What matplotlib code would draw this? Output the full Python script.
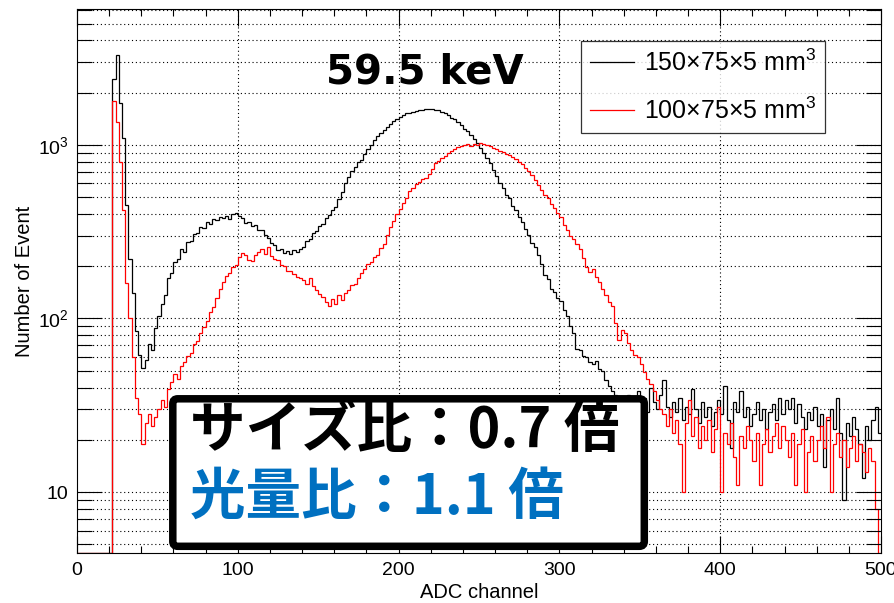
import numpy as np
import matplotlib
matplotlib.use("Agg")
import matplotlib.pyplot as plt
from matplotlib.ticker import MultipleLocator, LogLocator, FixedLocator, FixedFormatter, NullFormatter
from matplotlib.patches import FancyBboxPatch
from matplotlib.transforms import IdentityTransform

plt.rcParams['font.family'] = ['Liberation Sans', 'DejaVu Sans']

# ADC histograms, 2 channels per bin, 0..500
edges = np.arange(0, 502, 2)

counts_150 = [
    0, 0, 0, 0, 0, 0, 0, 0, 0, 0,
    0, 2400, 3300, 1750, 1100, 450, 220, 140, 85, 62,
    52, 58, 71, 66, 88, 104, 121, 136, 170, 184,
    212, 220, 251, 243, 276, 281, 305, 312, 336, 331,
    358, 352, 374, 368, 386, 379, 392, 376, 398, 404,
    392, 381, 356, 362, 341, 346, 325, 322, 304, 292,
    271, 266, 248, 251, 238, 244, 236, 247, 241, 253,
    258, 279, 286, 309, 318, 339, 352, 381, 396, 424,
    441, 486, 536, 604, 652, 706, 744, 796, 818, 884,
    946, 1004, 1066, 1128, 1176, 1224, 1268, 1326, 1374, 1418,
    1452, 1486, 1524, 1536, 1556, 1566, 1592, 1598, 1612, 1608,
    1614, 1596, 1584, 1552, 1526, 1484, 1436, 1402, 1356, 1296,
    1244, 1196, 1142, 1076, 1024, 958, 904, 836, 782, 716,
    664, 606, 562, 516, 494, 446, 424, 386, 362, 326,
    304, 272, 258, 232, 206, 178, 168, 148, 142, 131,
    126, 112, 104, 90, 82, 67, 66, 61, 60, 56,
    55, 57, 51, 50, 44, 41, 38, 36, 35, 34,
    30, 36, 28, 33, 38, 31, 35, 29, 40, 33,
    30, 36, 44, 31, 27, 33, 29, 35, 26, 31,
    28, 39, 30, 25, 33, 27, 31, 24, 29, 34,
    28, 41, 26, 18, 33, 29, 38, 27, 31, 24,
    28, 33, 26, 30, 23, 29, 32, 26, 35, 28,
    34, 30, 35, 25, 32, 27, 23, 29, 26, 31,
    24, 28, 14, 26, 30, 23, 35, 22, 9, 25,
    21, 27, 23, 19, 12, 24, 20, 26, 31, 22,
]

counts_100 = [
    0, 0, 0, 0, 0, 0, 0, 0, 0, 0,
    0, 1800, 1350, 800, 420, 160, 100, 60, 35, 28,
    19, 25, 28, 24, 27, 30, 34, 31, 39, 43,
    48, 45, 53, 56, 61, 63, 71, 74, 83, 89,
    97, 109, 116, 131, 148, 163, 176, 183, 197, 204,
    226, 238, 231, 218, 214, 232, 243, 252, 236, 258,
    229, 221, 216, 203, 201, 189, 187, 181, 174, 171,
    166, 158, 171, 153, 146, 139, 133, 124, 118, 129,
    121, 136, 127, 141, 146, 156, 158, 171, 182, 194,
    206, 213, 227, 233, 256, 268, 302, 338, 367, 401,
    428, 462, 497, 542, 568, 592, 608, 633, 648, 683,
    728, 782, 806, 843, 868, 902, 918, 948, 972, 988,
    1002, 1008, 992, 1012, 998, 1032, 1018, 1002, 982, 958,
    952, 928, 912, 888, 872, 848, 832, 798, 772, 738,
    712, 668, 632, 588, 552, 518, 492, 458, 432, 404,
    382, 348, 322, 298, 287, 268, 252, 224, 198, 186,
    192, 174, 162, 148, 136, 124, 118, 94, 75, 86,
    82, 72, 66, 62, 60, 55, 49, 45, 42, 38,
    34, 30, 28, 24, 30, 22, 26, 19, 10, 25,
    34, 21, 27, 18, 24, 20, 26, 17, 23, 31,
    10, 22, 19, 25, 16, 11, 21, 18, 24, 20,
    15, 22, 11, 19, 23, 17, 21, 25, 18, 24,
    20, 16, 22, 11, 19, 23, 10, 17, 21, 15,
    20, 24, 18, 27, 10, 19, 22, 16, 20, 14,
    18, 21, 15, 19, 17, 13, 18, 15, 8, 0,
]

labels = ["150\u00d775\u00d75 mm$^{\\mathregular{3}}$", "100\u00d775\u00d75 mm$^{\\mathregular{3}}$"]
title = "59.5 keV"
line1 = "サイズ比：0.7 倍"
line2 = "光量比：1.1 倍"

ymin, ymax = 4.47, 6050

fig = plt.figure(figsize=(8.95, 6.03), dpi=100)
ax = fig.add_axes([77/895, 1-552.7/603, 804/895, 543.4/603])

h150 = np.clip(np.array(counts_150, float), ymin, None)
h100 = np.clip(np.array(counts_100, float), ymin, None)
ax.stairs(h150, edges, baseline=None, color='black', lw=0.9, label=labels[0])
ax.stairs(h100, edges, baseline=None, color='#ff0000', lw=0.9, label=labels[1])

ax.set_yscale('log')
ax.set_xlim(0, 500)
ax.set_ylim(ymin, ymax)

ax.xaxis.set_major_locator(MultipleLocator(100))
ax.xaxis.set_minor_locator(MultipleLocator(20))
ax.yaxis.set_major_locator(FixedLocator([10, 100, 1000]))
ax.yaxis.set_major_formatter(FixedFormatter(["10", "$\\mathregular{10^{2}}$", "$\\mathregular{10^{3}}$"]))
ax.yaxis.set_minor_locator(LogLocator(base=10, subs=np.arange(2, 10)))
ax.yaxis.set_minor_formatter(NullFormatter())

ax.tick_params(which='both', direction='in', top=True, right=True, labelsize=14)
ax.tick_params(axis='x', which='major', length=12, width=0.8, pad=7)
ax.tick_params(axis='x', which='minor', length=5, width=0.8)
ax.tick_params(axis='y', which='major', length=18, width=0.8, pad=6)
ax.tick_params(axis='y', which='minor', length=11, width=0.8)
for s in ax.spines.values():
    s.set_linewidth(0.8)

# dotted grid: all y ticks, x only at major
for v in [5, 6, 7, 8, 9, 20, 30, 40, 50, 60, 70, 80, 90, 200, 300, 400, 500,
          600, 700, 800, 900, 2000, 3000, 4000, 5000, 6000, 10, 100, 1000]:
    ax.axhline(v, color='black', lw=0.8, ls=(0, (1, 2.5)), zorder=0)
for v in [100, 200, 300, 400]:
    ax.axvline(v, color='black', lw=0.8, ls=(0, (1, 2.5)), zorder=0)

ax.set_xlabel("ADC channel", fontsize=14.5)
ax.xaxis.set_label_coords(0.5, -0.056)
ax.set_ylabel("Number of Event", fontsize=14.5)
ax.yaxis.set_label_coords(-0.054, 0.5)

leg = ax.legend(loc='upper left', bbox_to_anchor=(581/895, 1-41/603),
                bbox_transform=fig.transFigure, fontsize=18, frameon=True,
                fancybox=False, edgecolor='black', borderpad=0.35,
                labelspacing=0.85, handlelength=1.75, handletextpad=0.4,
                borderaxespad=0)
leg.get_frame().set_linewidth(0.9)
for l in leg.get_lines():
    l.set_linewidth(0.9)

fig.text(424.5/895, 1-83/603, title, fontsize=29, fontweight='bold',
         family='DejaVu Sans', ha='center', va='baseline')

box = FancyBboxPatch((172.8, 603-546.3), 471.5, 147.5,
                     boxstyle="round,pad=0,rounding_size=5",
                     transform=IdentityTransform(), facecolor='white',
                     edgecolor='black', lw=5.4, zorder=5)
fig.add_artist(box)
fig.text(190/895, 1-431.5/603, line1, fontsize=40, fontweight='bold',
         family=['Noto Sans CJK JP', 'DejaVu Sans'], color='black',
         ha='left', va='center', zorder=6)
fig.text(190/895, 1-497.5/603, line2, fontsize=40, fontweight='bold',
         family=['Noto Sans CJK JP', 'DejaVu Sans'], color='#0070c0',
         ha='left', va='center', zorder=6)

fig.savefig("out.png", dpi=100)
